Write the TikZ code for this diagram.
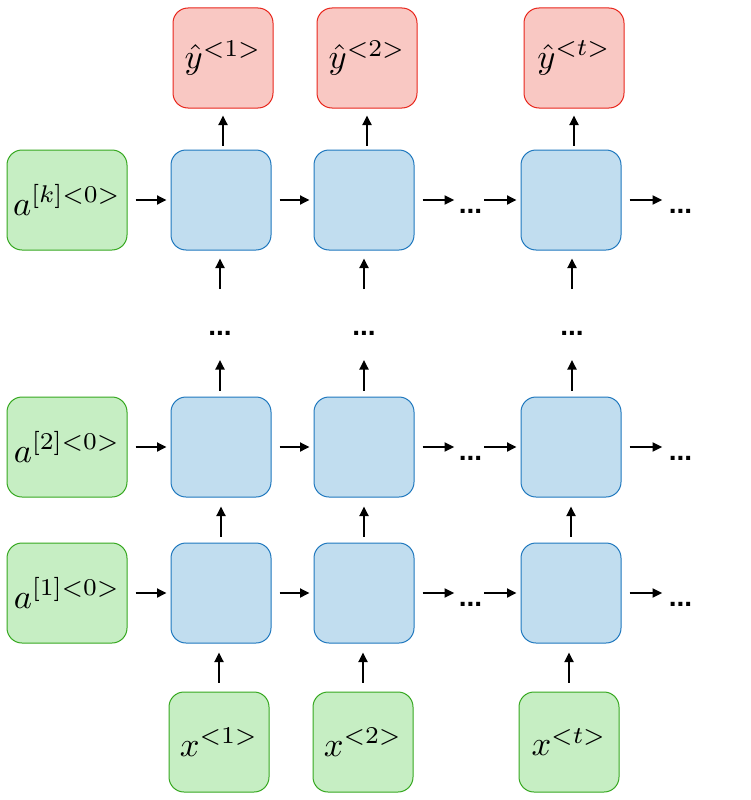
\documentclass[tikz,border=0pt]{standalone}
\usepackage{graphicx}
\usepackage{fontspec}
\newfontfamily\dotfont{Liberation Sans}
\usetikzlibrary{arrows.meta}
\definecolor{gfill}{HTML}{C6EEC3}
\definecolor{gline}{HTML}{36A820}
\definecolor{bfill}{HTML}{C1DDEF}
\definecolor{bline}{HTML}{1F78BE}
\definecolor{rfill}{HTML}{F9C8C3}
\definecolor{rline}{HTML}{E8261C}
\newcommand{\mylabel}[1]{\scalebox{3.45}{\fontsize{10}{12}\selectfont$#1$}}
\begin{document}
\begin{tikzpicture}[x=1pt,y=-1pt,
  box/.style={rectangle, rounded corners=15pt, line width=1pt, minimum width=100pt, minimum height=100pt, inner sep=0pt},
  gbox/.style={box, fill=gfill, draw=gline},
  abox/.style={gbox, minimum width=120pt},
  bbox/.style={box, fill=bfill, draw=bline},
  rbox/.style={box, fill=rfill, draw=rline},
  dotsn/.style={inner sep=0pt, anchor=base, font=\dotfont\bfseries\fontsize{28}{32}\selectfont},
  arr/.style={-{Triangle[length=9.5pt,width=9pt]}, line width=1.8pt}]
\useasboundingbox (0,0) rectangle (750,800);
% left initial states
\node[abox] (ak) at (67,200) {\mylabel{a^{[k]<0>}}};
\node[abox] (a2) at (67,447) {\mylabel{a^{[2]<0>}}};
\node[abox] (a1) at (67,593) {\mylabel{a^{[1]<0>}}};
% blue cells
\foreach \r/\y in {k/200,2/447,1/593}{
  \node[bbox] (b\r1) at (221,\y) {};
  \node[bbox] (b\r2) at (364,\y) {};
  \node[bbox] (b\r3) at (571,\y) {};
  \node[dotsn] (d\r) at (470.5,\y+13) {...};
  \node[dotsn] (e\r) at (680.5,\y+13) {...};
}
% outputs
\node[rbox] (r1) at (223,58) {\mylabel{\hat{y}^{<1>}}};
\node[rbox] (r2) at (367,58) {\mylabel{\hat{y}^{<2>}}};
\node[rbox] (r3) at (574,58) {\mylabel{\hat{y}^{<t>}}};
% inputs
\node[gbox] (x1) at (219,742) {\mylabel{x^{<1>}}};
\node[gbox] (x2) at (363,742) {\mylabel{x^{<2>}}};
\node[gbox] (x3) at (569,742) {\mylabel{x^{<t>}}};
% vertical dots
\node[dotsn] (v1) at (220,335) {...};
\node[dotsn] (v2) at (364,335) {...};
\node[dotsn] (v3) at (572,335) {...};
% horizontal connectors
\foreach \r in {k,2,1}{
  \draw[arr, shorten <=8pt, shorten >=4pt] (a\r) -- (b\r1);
  \draw[arr, shorten <=8pt, shorten >=4pt] (b\r1) -- (b\r2);
  \draw[arr, shorten <=8pt] (b\r2.east) -- ([xshift=-4.5pt]b\r2.east -| d\r.west);
  \draw[arr, shorten >=4pt] ([xshift=2pt]d\r.east |- b\r3.west) -- (b\r3.west);
  \draw[arr, shorten <=8pt] (b\r3.east) -- ([xshift=-6.5pt]b\r3.east -| e\r.west);
}
% vertical connectors
\foreach \c in {1,2,3}{
  \draw[arr, shorten <=9pt, shorten >=9pt] (x\c.north) -- (x\c.north |- b1\c.south);
  \draw[arr, shorten <=6pt, shorten >=9pt] (b1\c.north) -- (b2\c.south);
  \draw[arr, shorten <=6pt, shorten >=25pt] (b2\c.north -| v\c.base) -- (v\c.base);
  \draw[arr, shorten <=46pt, shorten >=8pt] (v\c.base) -- (v\c.base |- bk\c.south);
  \draw[arr, shorten <=4pt, shorten >=7pt] (r\c.south |- bk\c.north) -- (r\c.south);
}
\end{tikzpicture}
\end{document}
